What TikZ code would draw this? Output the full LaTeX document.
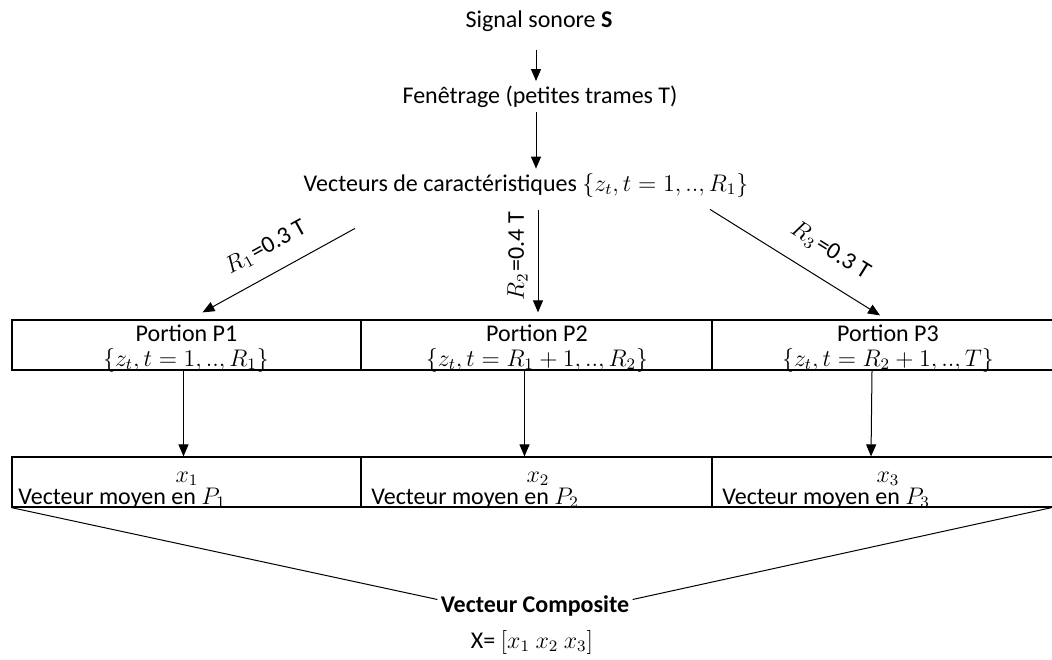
\documentclass[tikz,border=0pt]{standalone}
\usepackage{fontspec}
\setmainfont{Carlito}
\usetikzlibrary{arrows.meta}

\tikzset{
  txt/.style={inner sep=0pt, anchor=base, font=\fontsize{12}{14}\selectfont},
  cell/.style={draw, line width=0.6pt, minimum height=25pt, inner sep=0pt},
  arr/.style={-{Triangle[length=6pt,width=5pt]}, line width=0.5pt},
  lbl/.style={inner sep=0pt, font=\fontsize{12}{14}\selectfont},
}

\begin{document}
\begin{tikzpicture}[x=0.5pt,y=-0.5pt]
    \useasboundingbox (0,0) rectangle (1052,659);

    % signal et fenetrage
    \node[txt] (sig) at (539,27) {Signal sonore \textbf{S}};
    \node[txt] (fen) at (540,103) {Fenêtrage (petites trames T)};
    \node[txt] (vec) at (526,191) {Vecteurs de caractéristiques $\{z_t, t=1,..,R_1\}$};

    \draw[arr, shorten <=9pt, shorten >=2pt] ([xshift=-1.5pt]sig.south) -- ([xshift=-2pt]fen.north);
    \draw[arr, shorten <=2pt, shorten >=2pt] ([xshift=-2pt]fen.south) -- ([xshift=5pt]vec.north);

    % portions
    \node[cell, minimum width=174.5pt] (p1) at (186.5,345) {};
    \node[cell, minimum width=175.5pt] (p2) at (536.5,345) {};
    \node[cell, minimum width=174pt] (p3) at (886,345) {};

    \node[txt] (t1) at (186.5,341) {Portion P1};
    \node[txt] (t2) at (537,341) {Portion P2};
    \node[txt] (t3) at (888,341) {Portion P3};
    \node[txt] (z1) at (186,366) {$\{z_t, t=1,..,R_1\}$};
    \node[txt] (z2) at (537,366) {$\{z_t, t=R_1+1,..,R_2\}$};
    \node[txt] (z3) at (888,366) {$\{z_t, t=R_2+1,..,T\}$};

    \draw[arr] ([shift={(-171,31)}]vec.south) -- ([shift={(16,-7)}]p1.north)
        node[lbl, midway, sloped, above, yshift=8pt] {$R_1$\kern1pt=0.3 T};
    \draw[arr] ([shift={(12,13)}]vec.south) -- ([shift={(1.5,-7)}]p2.north)
        node[lbl, pos=0.45, rotate=90, anchor=south, yshift=5pt] {$R_2$\kern1pt=0.4 T};
    \draw[arr] ([shift={(184,12)}]vec.south) -- ([shift={(-6,-4)}]p3.north)
        node[lbl, pos=0.62, sloped, above, yshift=9pt] {$R_3$\kern1pt=0.3 T};

    % vecteurs moyens
    \node[cell, minimum width=174.5pt] (q1) at (186.5,482) {};
    \node[cell, minimum width=175.5pt] (q2) at (536.5,482) {};
    \node[cell, minimum width=174pt] (q3) at (886,482) {};

    \node[txt] (x1) at (187,482) {$x_1$};
    \node[txt] (x2) at (538,482) {$x_2$};
    \node[txt] (x3) at (888,482) {$x_3$};
    \node[txt, anchor=base west] (m1) at (18,504) {Vecteur moyen en $P_1$};
    \node[txt, anchor=base west] (m2) at (371,504) {Vecteur moyen en $P_2$};
    \node[txt, anchor=base west] (m3) at (722,504) {Vecteur moyen en $P_3$};

    \draw[arr] ([xshift=-1.5pt]p1.south) -- ([xshift=-1.5pt]q1.north);
    \draw[arr] ([xshift=-6pt]p2.south) -- ([xshift=-6pt]q2.north);
    \draw[arr] ([xshift=-7pt]p3.south) -- ([xshift=-7.5pt]q3.north);

    % vecteur composite
    \node[txt] (comp) at (535,612) {\textbf{Vecteur Composite}};
    \node[txt] (vx) at (532,648) {X= $[x_1\ x_2\ x_3]$};

    \draw[line width=0.5pt] (q1.south west) -- ([shift={(-3,-6)}]comp.west);
    \draw[line width=0.5pt] ([xshift=-4.5pt]q3.south east) -- ([shift={(3,-6)}]comp.east);
\end{tikzpicture}
\end{document}
